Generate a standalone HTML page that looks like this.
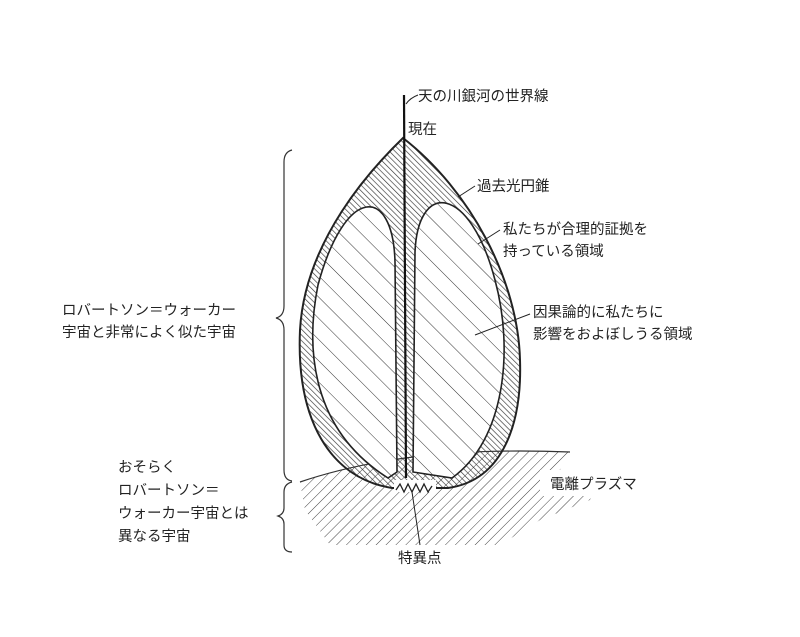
<!DOCTYPE html>
<html><head><meta charset="utf-8"><style>
html,body{margin:0;padding:0;background:#fff}
svg{display:block}
text{font-family:"Liberation Sans","Noto Sans CJK JP",sans-serif;font-size:14.5px;fill:#222}
</style></head><body>
<svg width="800" height="637" viewBox="0 0 800 637" xmlns="http://www.w3.org/2000/svg">
<defs>
<pattern id="fine" patternUnits="userSpaceOnUse" width="4" height="4" patternTransform="rotate(-45)">
<line x1="0" y1="0" x2="0" y2="4" stroke="#333" stroke-width="1.3"/></pattern>
<pattern id="coarse" patternUnits="userSpaceOnUse" width="15" height="15" patternTransform="rotate(-45)">
<line x1="0" y1="0" x2="0" y2="15" stroke="#333" stroke-width="1"/></pattern>
<pattern id="ground" patternUnits="userSpaceOnUse" width="7" height="7" patternTransform="rotate(45)">
<line x1="0" y1="0" x2="0" y2="7" stroke="#444" stroke-width="1"/></pattern>
</defs>
<!-- ground -->
<path d="M300,482 C380,455 470,448 570,452 L560,470 L600,475 L590,500 L540,520 L500,545 L330,545 L305,510 Z" fill="url(#ground)"/>
<path d="M300,482 C380,455 470,448 570,452" fill="none" stroke="#333" stroke-width="1.2"/>
<rect x="540" y="470" width="120" height="26" fill="#fff"/>
<!-- outer cone -->
<path d="M403,138 C372,168 305,240 300,330 C296,420 330,478 392,488 L448,488 C505,480 522,420 520,360 C518,280 470,190 403,138 Z" fill="url(#fine)" stroke="#222" stroke-width="2"/>
<!-- inner lobes -->
<path d="M397,472 L395,262 C393,185 345,185 318,285 C305,350 312,430 388,478 Z" fill="#fff" stroke="#222" stroke-width="1.6"/>
<path d="M397,472 L395,262 C393,185 345,185 318,285 C305,350 312,430 388,478 Z" fill="url(#coarse)"/>
<path d="M413,472 L415,252 C418,180 470,185 495,280 C514,350 505,440 452,478 Z" fill="#fff" stroke="#222" stroke-width="1.6"/>
<path d="M413,472 L415,252 C418,180 470,185 495,280 C514,350 505,440 452,478 Z" fill="url(#coarse)"/>
<!-- worldline -->
<line x1="404" y1="95" x2="406" y2="478" stroke="#111" stroke-width="2.2"/>
<!-- singularity zigzag -->
<rect x="394" y="480" width="42" height="12" fill="#fff"/>
<polyline points="396,490 400,484 404,492 408,484 412,492 416,484 420,492 424,484 428,492 432,486" fill="none" stroke="#222" stroke-width="1.3"/>
<!-- leader lines -->
<g stroke="#222" stroke-width="1" fill="none">
<path d="M418,95 Q410,98 406,104"/>
<path d="M475,186 L458,197"/>
<path d="M500,230 L478,244"/>
<path d="M530,314 L475,335"/>
<path d="M412,492 L420,545"/>
</g>
<!-- braces -->
<g stroke="#333" stroke-width="1.2" fill="none">
<path d="M292,150 Q284,152 284,162 L284,306 Q284,316 276,318 Q284,320 284,330 L284,470 Q284,480 292,481"/>
<path d="M292,482 Q284,484 284,492 L284,508 Q284,514 278,516 Q284,518 284,524 L284,545 Q284,552 292,552"/>
</g>
<!-- labels -->
<text x="418" y="101">天の川銀河の世界線</text>
<text x="408" y="134">現在</text>
<text x="477" y="191">過去光円錐</text>
<text x="503" y="234">私たちが合理的証拠を</text>
<text x="503" y="256">持っている領域</text>
<text x="533" y="317">因果論的に私たちに</text>
<text x="533" y="339">影響をおよぼしうる領域</text>
<text x="62" y="315">ロバートソン＝ウォーカー</text>
<text x="62" y="337">宇宙と非常によく似た宇宙</text>
<text x="118" y="472">おそらく</text>
<text x="118" y="495">ロバートソン＝</text>
<text x="118" y="518">ウォーカー宇宙とは</text>
<text x="118" y="541">異なる宇宙</text>
<text x="550" y="489">電離プラズマ</text>
<text x="398" y="563">特異点</text>
</svg>
</body></html>
